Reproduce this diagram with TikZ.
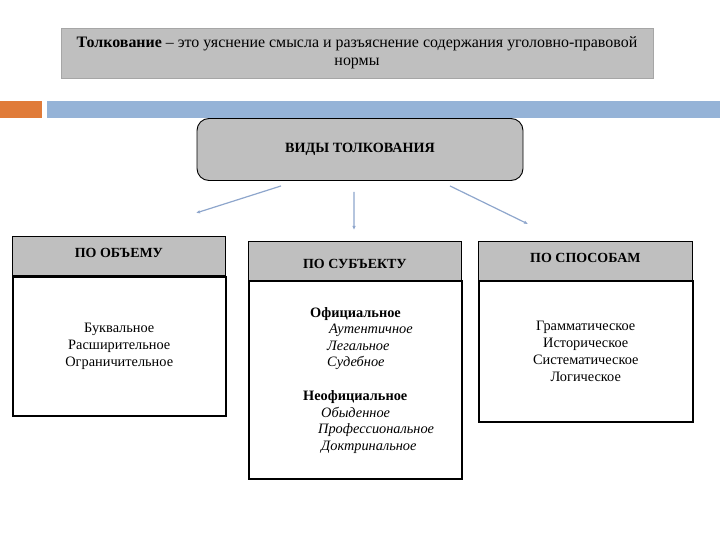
\documentclass[tikz,border=0pt]{standalone}
\usepackage{fontspec}
\setmainfont{Liberation Serif}
\usetikzlibrary{positioning,arrows.meta}
\definecolor{boxgray}{HTML}{BFBFBF}
\definecolor{rimgray}{HTML}{A6A6A6}
\definecolor{barblue}{HTML}{95B3D7}
\definecolor{barorange}{HTML}{E07B39}
\definecolor{linkblue}{HTML}{8EA6CC}

\begin{document}
\begin{tikzpicture}[x=1bp,y=-1bp,
  headbox/.style={draw=black,line width=0.8bp,fill=boxgray,anchor=north west,
    minimum width=#1,minimum height=39bp,inner sep=0pt,font=\fontsize{14}{16}\selectfont\bfseries},
  bodybox/.style={draw=black,line width=1.5bp,fill=white,anchor=north west,
    minimum width=#1,inner sep=0pt,align=center,font=\fontsize{14.4}{17}\selectfont},
  link/.style={draw=linkblue,line width=1.2bp,-{Latex[length=4bp,width=3.5bp]}}]
\useasboundingbox (0,0) rectangle (720,540);
% title
\node (title) [draw=rimgray,fill=boxgray,minimum width=592bp,minimum height=50bp,
  align=center,font=\fontsize{16}{18}\selectfont] at (357,53)
  {\textbf{Толкование} -- это уяснение смысла и разъяснение содержания уголовно-правовой\\нормы};
% decorative bars
\fill[barorange] (0,101) rectangle (42,118);
\fill[barblue] (47,101) rectangle (720,118);
% main node
\node (kinds) [draw=black,line width=0.9bp,fill=boxgray,rounded corners=12bp,
  minimum width=326bp,minimum height=62bp,font=\fontsize{14.2}{16}\selectfont\bfseries]
  at (360,149.5) {ВИДЫ ТОЛКОВАНИЯ};
% left column
\node (volhead) [headbox=213bp,text height=10bp,text depth=7bp] at (12,236) {ПО ОБЪЕМУ};
\node (volbody) [bodybox=213bp,minimum height=139bp] at (12,276)
  {Буквальное\\Расширительное\\Ограничительное};
% middle column
\node (subjhead) [headbox=213bp,text height=15bp,text depth=0bp] at (248,241) {ПО СУБЪЕКТУ};
\node (subjbody) [bodybox=213bp,minimum height=198bp] at (248,280) {};
\node (subjlist) [anchor=north west,inner sep=0pt,align=left,
  font=\fontsize{14.4}{16.5}\selectfont] at (303,307)
  {\hspace*{7bp}\textbf{Официальное}\\
   \hspace*{26bp}\textit{Аутентичное}\\
   \hspace*{24bp}\textit{Легальное}\\
   \hspace*{24bp}\textit{Судебное}\\[18bp]
   \textbf{Неофициальное}\\
   \hspace*{18bp}\textit{Обыденное}\\
   \hspace*{15bp}\textit{Профессиональное}\\
   \hspace*{18bp}\textit{Доктринальное}};
% right column
\node (wayhead) [headbox=214bp,text height=10bp,text depth=7bp] at (478,241) {ПО СПОСОБАМ};
\node (waybody) [bodybox=214bp,minimum height=141bp] at (478,280)
  {Грамматическое\\Историческое\\Систематическое\\Логическое};
% connectors
\coordinate (volend) at (196,213);
\coordinate (subjend) at (354,230);
\coordinate (wayend) at (528,224);
\draw[link] ([shift={(-79bp,-5bp)}]kinds.south) -- (volend);
\draw[link] ([shift={(-6bp,-11bp)}]kinds.south) -- (subjend);
\draw[link] ([shift={(90bp,-5bp)}]kinds.south) -- (wayend);
\end{tikzpicture}
\end{document}
